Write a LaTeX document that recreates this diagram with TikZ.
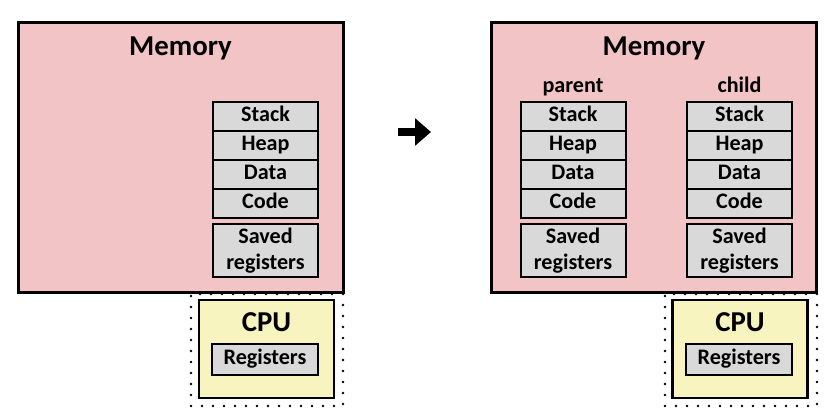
\documentclass[tikz,border=0pt]{standalone}
\usepackage{fontspec}
\setmainfont{Carlito}
\usetikzlibrary{positioning,arrows.meta}

\definecolor{memfill}{RGB}{242,196,198}
\definecolor{cpufill}{RGB}{247,244,191}
\definecolor{segfill}{RGB}{217,217,217}

\begin{document}
\begin{tikzpicture}[x=0.75pt, y=-0.75pt,
    mem/.style={draw=black, fill=memfill, line width=2.25pt, minimum width=243.75pt, minimum height=202.5pt, inner sep=0pt, outer sep=0pt},
    cpu/.style={draw=black, fill=cpufill, line width=1.9pt, minimum width=101.25pt, minimum height=73.5pt, inner sep=0pt, outer sep=0pt},
    seg/.style={draw=black, fill=segfill, line width=1.5pt, minimum width=78.75pt, minimum height=21.75pt, inner sep=0pt, outer sep=0pt, align=center, font=\bfseries\fontsize{16.6}{19.5}\selectfont, text height=11.3pt, text depth=3.4pt},
    saved/.style={seg, minimum height=39.75pt, text height=, text depth=},
    regs/.style={seg, minimum width=79.5pt, minimum height=23.25pt},
    ctx/.style={draw=black, line width=2.1pt, line cap=round, dash pattern=on 0pt off 8.25pt, minimum width=114pt, minimum height=84pt, inner sep=0pt},
    title/.style={font=\bfseries\fontsize{21.6}{25}\selectfont, anchor=base, inner sep=0pt},
    lbl/.style={font=\bfseries\fontsize{16.6}{19.5}\selectfont, anchor=base, inner sep=0pt},
    fat/.style={line width=6.5pt, -{Triangle[width=20pt, length=12pt]}},
]
\useasboundingbox (0,0) rectangle (828,415);

% context frames behind the memory boxes
\node[ctx] (ctxL) at (267,350) {};
\node[ctx] (ctxR) at (741,350) {};

% before
\node[mem] (memL) at (180.5,157) {};
\node[title] at (180.5,55) {Memory};
\node[seg] (stackL) at (265.5,116.5) {Stack};
\node[seg, below=0pt of stackL] (heapL) {Heap};
\node[seg, below=0pt of heapL] (dataL) {Data};
\node[seg, below=0pt of dataL] (codeL) {Code};
\node[saved, below=4.5pt of codeL] (savedL) {Saved\\registers};

\node[cpu] (cpuL) at (266.5,349) {};
\node[title] at (266.5,331.5) {CPU};
\node[regs] (regsL) at (265,359.5) {Registers};

% fork arrow
\coordinate (arrS) at (398,132);
\coordinate (arrE) at (431,132);
\draw[fat] (arrS) -- (arrE);

% after
\node[mem] (memR) at (654,157) {};
\node[title] at (654,55) {Memory};

\node[lbl] at (573,92) {parent};
\node[seg] (stackP) at (573,116.5) {Stack};
\node[seg, below=0pt of stackP] (heapP) {Heap};
\node[seg, below=0pt of heapP] (dataP) {Data};
\node[seg, below=0pt of dataP] (codeP) {Code};
\node[saved, below=4.5pt of codeP] (savedP) {Saved\\registers};

\node[lbl] at (739.5,92) {child};
\node[seg] (stackC) at (739.5,116.5) {Stack};
\node[seg, below=0pt of stackC] (heapC) {Heap};
\node[seg, below=0pt of heapC] (dataC) {Data};
\node[seg, below=0pt of dataC] (codeC) {Code};
\node[saved, below=4.5pt of codeC] (savedC) {Saved\\registers};

\node[cpu] (cpuR) at (740,349) {};
\node[title] at (740,331.5) {CPU};
\node[regs] (regsR) at (739,359.5) {Registers};

\end{tikzpicture}
\end{document}
